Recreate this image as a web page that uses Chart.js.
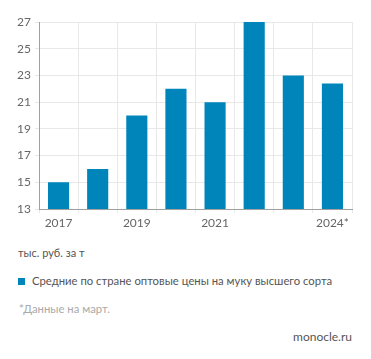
<!DOCTYPE html>
<html><head><meta charset="utf-8">
<script src="https://cdn.jsdelivr.net/npm/chart.js@4/dist/chart.umd.min.js"></script>
<style>
html,body{margin:0;padding:0;background:#fff;}
body{width:371px;height:359px;position:relative;overflow:hidden;font-family:Lato,"Open Sans",sans-serif;}
#wrap{position:absolute;left:0;top:0;width:371px;height:240px;}
.t{position:absolute;white-space:nowrap;line-height:1;}
#unit{left:18px;top:247px;font-size:11px;color:#555;}
#leg{left:18px;top:275px;font-size:11.3px;color:#555;}
#leg span.sw{display:inline-block;width:7px;height:7px;margin-right:7px;vertical-align:0px;}
#note{left:19px;top:303px;font-size:11.3px;color:#aaa;}
#src{right:19px;top:331px;font-size:12px;color:#555;}
</style></head>
<body>
<div id="wrap"><canvas id="c" width="371" height="240"></canvas></div>
<div class="t" id="unit">тыс. руб. за т</div>
<div class="t" id="leg"></div>
<div class="t" id="note">*Данные на март.</div>
<div class="t" id="src">monocle.ru</div>
<script>
const categories = ['2017','2018','2019','2020','2021','2022','2023','2024*'];
const tickLabels = ['2017','','2019','','2021','','','2024*'];
const prices = [15, 16, 20, 22, 21, 27, 23, 22.4];
const seriesLabel = 'Средние по стране оптовые цены на муку высшего сорта';
const yTicks = [13, 15, 17, 19, 21, 23, 25, 27];
const barColor = '#0085ba';

document.getElementById('leg').innerHTML =
  '<span class="sw" style="background:' + barColor + '"></span>' + seriesLabel;

new Chart(document.getElementById('c'), {
  type: 'bar',
  data: {
    labels: categories,
    datasets: [{ label: seriesLabel, data: prices, backgroundColor: barColor,
      barPercentage: 0.9, categoryPercentage: 0.6 }]
  },
  options: {
    responsive: false, animation: false,
    layout: { padding: { top: 22, right: 19, left: 0, bottom: 0 } },
    plugins: { legend: { display: false }, tooltip: { enabled: false } },
    scales: {
      x: {
        grid: { color: '#e8e8e8', tickLength: 4, offset: true },
        border: { color: '#a0a0a0' },
        ticks: { color: '#666', font: { family: 'Lato', size: 12 }, padding: 3,
          autoSkip: false, maxRotation: 0,
          callback: (v, i) => tickLabels[i] },
        afterFit: s => { s.height = 31; }
      },
      y: {
        min: 13, max: 27,
        afterBuildTicks: s => { s.ticks = yTicks.map(v => ({ value: v })); },
        grid: { color: '#e8e8e8', tickLength: 4 },
        border: { color: '#a0a0a0' },
        ticks: { color: '#666', font: { family: 'Lato', size: 12 }, padding: 4 },
        afterFit: s => { s.width = 39; }
      }
    }
  }
});
</script>
</body></html>
